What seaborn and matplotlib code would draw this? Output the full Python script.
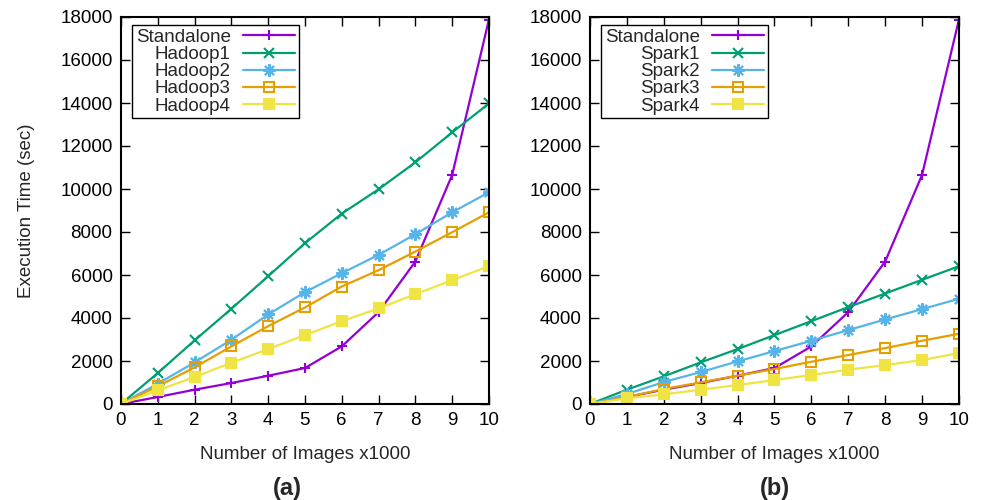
import matplotlib
matplotlib.use("Agg")
import matplotlib.pyplot as plt
import seaborn as sns
import pandas as pd

# x axis: number of images (x1000)
images = [0, 1, 2, 3, 4, 5, 6, 7, 8, 9, 10]

# execution times (sec)
standalone = [0, 325, 665, 975, 1316, 1672, 2678, 4272, 6625, 10650, 17880]

hadoop1 = [0, 1440, 2957, 4427, 5944, 7477, 8854, 9985, 11238, 12631, 13978]
hadoop2 = [0, 944, 1935, 2988, 4164, 5201, 6084, 6935, 7895, 8916, 9845]
hadoop3 = [0, 820, 1703, 2678, 3622, 4489, 5464, 6223, 7090, 7988, 8916]
hadoop4 = [0, 635, 1254, 1920, 2554, 3204, 3854, 4443, 5108, 5758, 6409]

spark1 = [0, 665, 1285, 1935, 2554, 3204, 3854, 4505, 5139, 5774, 6409]
spark2 = [0, 464, 1022, 1486, 1981, 2461, 2941, 3437, 3932, 4412, 4892]
spark3 = [0, 325, 697, 1006, 1316, 1625, 1966, 2276, 2601, 2941, 3266]
spark4 = [0, 263, 449, 665, 882, 1115, 1347, 1594, 1811, 2043, 2368]

hadoop_names = ["Standalone", "Hadoop1", "Hadoop2", "Hadoop3", "Hadoop4"]
spark_names = ["Standalone", "Spark1", "Spark2", "Spark3", "Spark4"]

# gnuplot-like colours and point types
colors = ["#9400D3", "#009E73", "#56B4E9", "#E69F00", "#F0E442"]
markers = ["+", "x", (8, 2, 0), "s", "s"]
msizes = [7, 6.5, 9, 6.5, 6.5]
filled = [True, True, True, False, True]

FS = 13.5


def draw_panel(ax, names, series):
    for name, values, color, marker, ms, fill in zip(names, series, colors, markers, msizes, filled):
        df = pd.DataFrame({"images": images, "time": values})
        sns.lineplot(data=df, x="images", y="time", ax=ax, color=color, label=name,
                     marker=marker, markersize=ms, linewidth=1.6,
                     markeredgewidth=1.5, markeredgecolor=color,
                     markerfacecolor=color if fill else "none")

    ax.set_xlim(0, 10)
    ax.set_ylim(0, 18000)
    ax.set_xticks(range(0, 11))
    ax.set_yticks(range(0, 18001, 2000))
    ax.tick_params(direction="in", length=6.5, width=1, top=True, right=True,
                   labelsize=FS, pad=6, colors="black")
    for side in ax.spines.values():
        side.set_linewidth(1.5)
        side.set_color("black")
    ax.set_xlabel("Number of Images x1000", fontsize=FS, labelpad=12)
    ax.set_ylabel("")

    leg = ax.legend(loc="upper left", bbox_to_anchor=(0.03, 0.979), borderaxespad=0,
                    markerfirst=False, fontsize=FS, handlelength=2.8,
                    handletextpad=0.65, labelspacing=0.0, borderpad=0.2,
                    fancybox=False, framealpha=1, edgecolor="black")
    leg.get_frame().set_linewidth(1.0)


def main():
    sns.set_theme(style="ticks")
    plt.rcParams["font.family"] = ["Liberation Sans", "DejaVu Sans"]

    fig = plt.figure(figsize=(9.81, 5.0), dpi=100)
    ax1 = fig.add_axes([0.1233, 0.192, 0.3751, 0.774])
    ax2 = fig.add_axes([0.6014, 0.192, 0.3761, 0.774])

    draw_panel(ax1, hadoop_names, [standalone, hadoop1, hadoop2, hadoop3, hadoop4])
    draw_panel(ax2, spark_names, [standalone, spark1, spark2, spark3, spark4])

    ax1.set_ylabel("Execution Time (sec)", fontsize=FS, labelpad=18)

    fig.text(0.2925, 0.024, "(a)", ha="center", va="center", fontsize=17, fontweight="bold")
    fig.text(0.79, 0.024, "(b)", ha="center", va="center", fontsize=17, fontweight="bold")

    fig.savefig("out.png", dpi=100)


if __name__ == "__main__":
    main()
